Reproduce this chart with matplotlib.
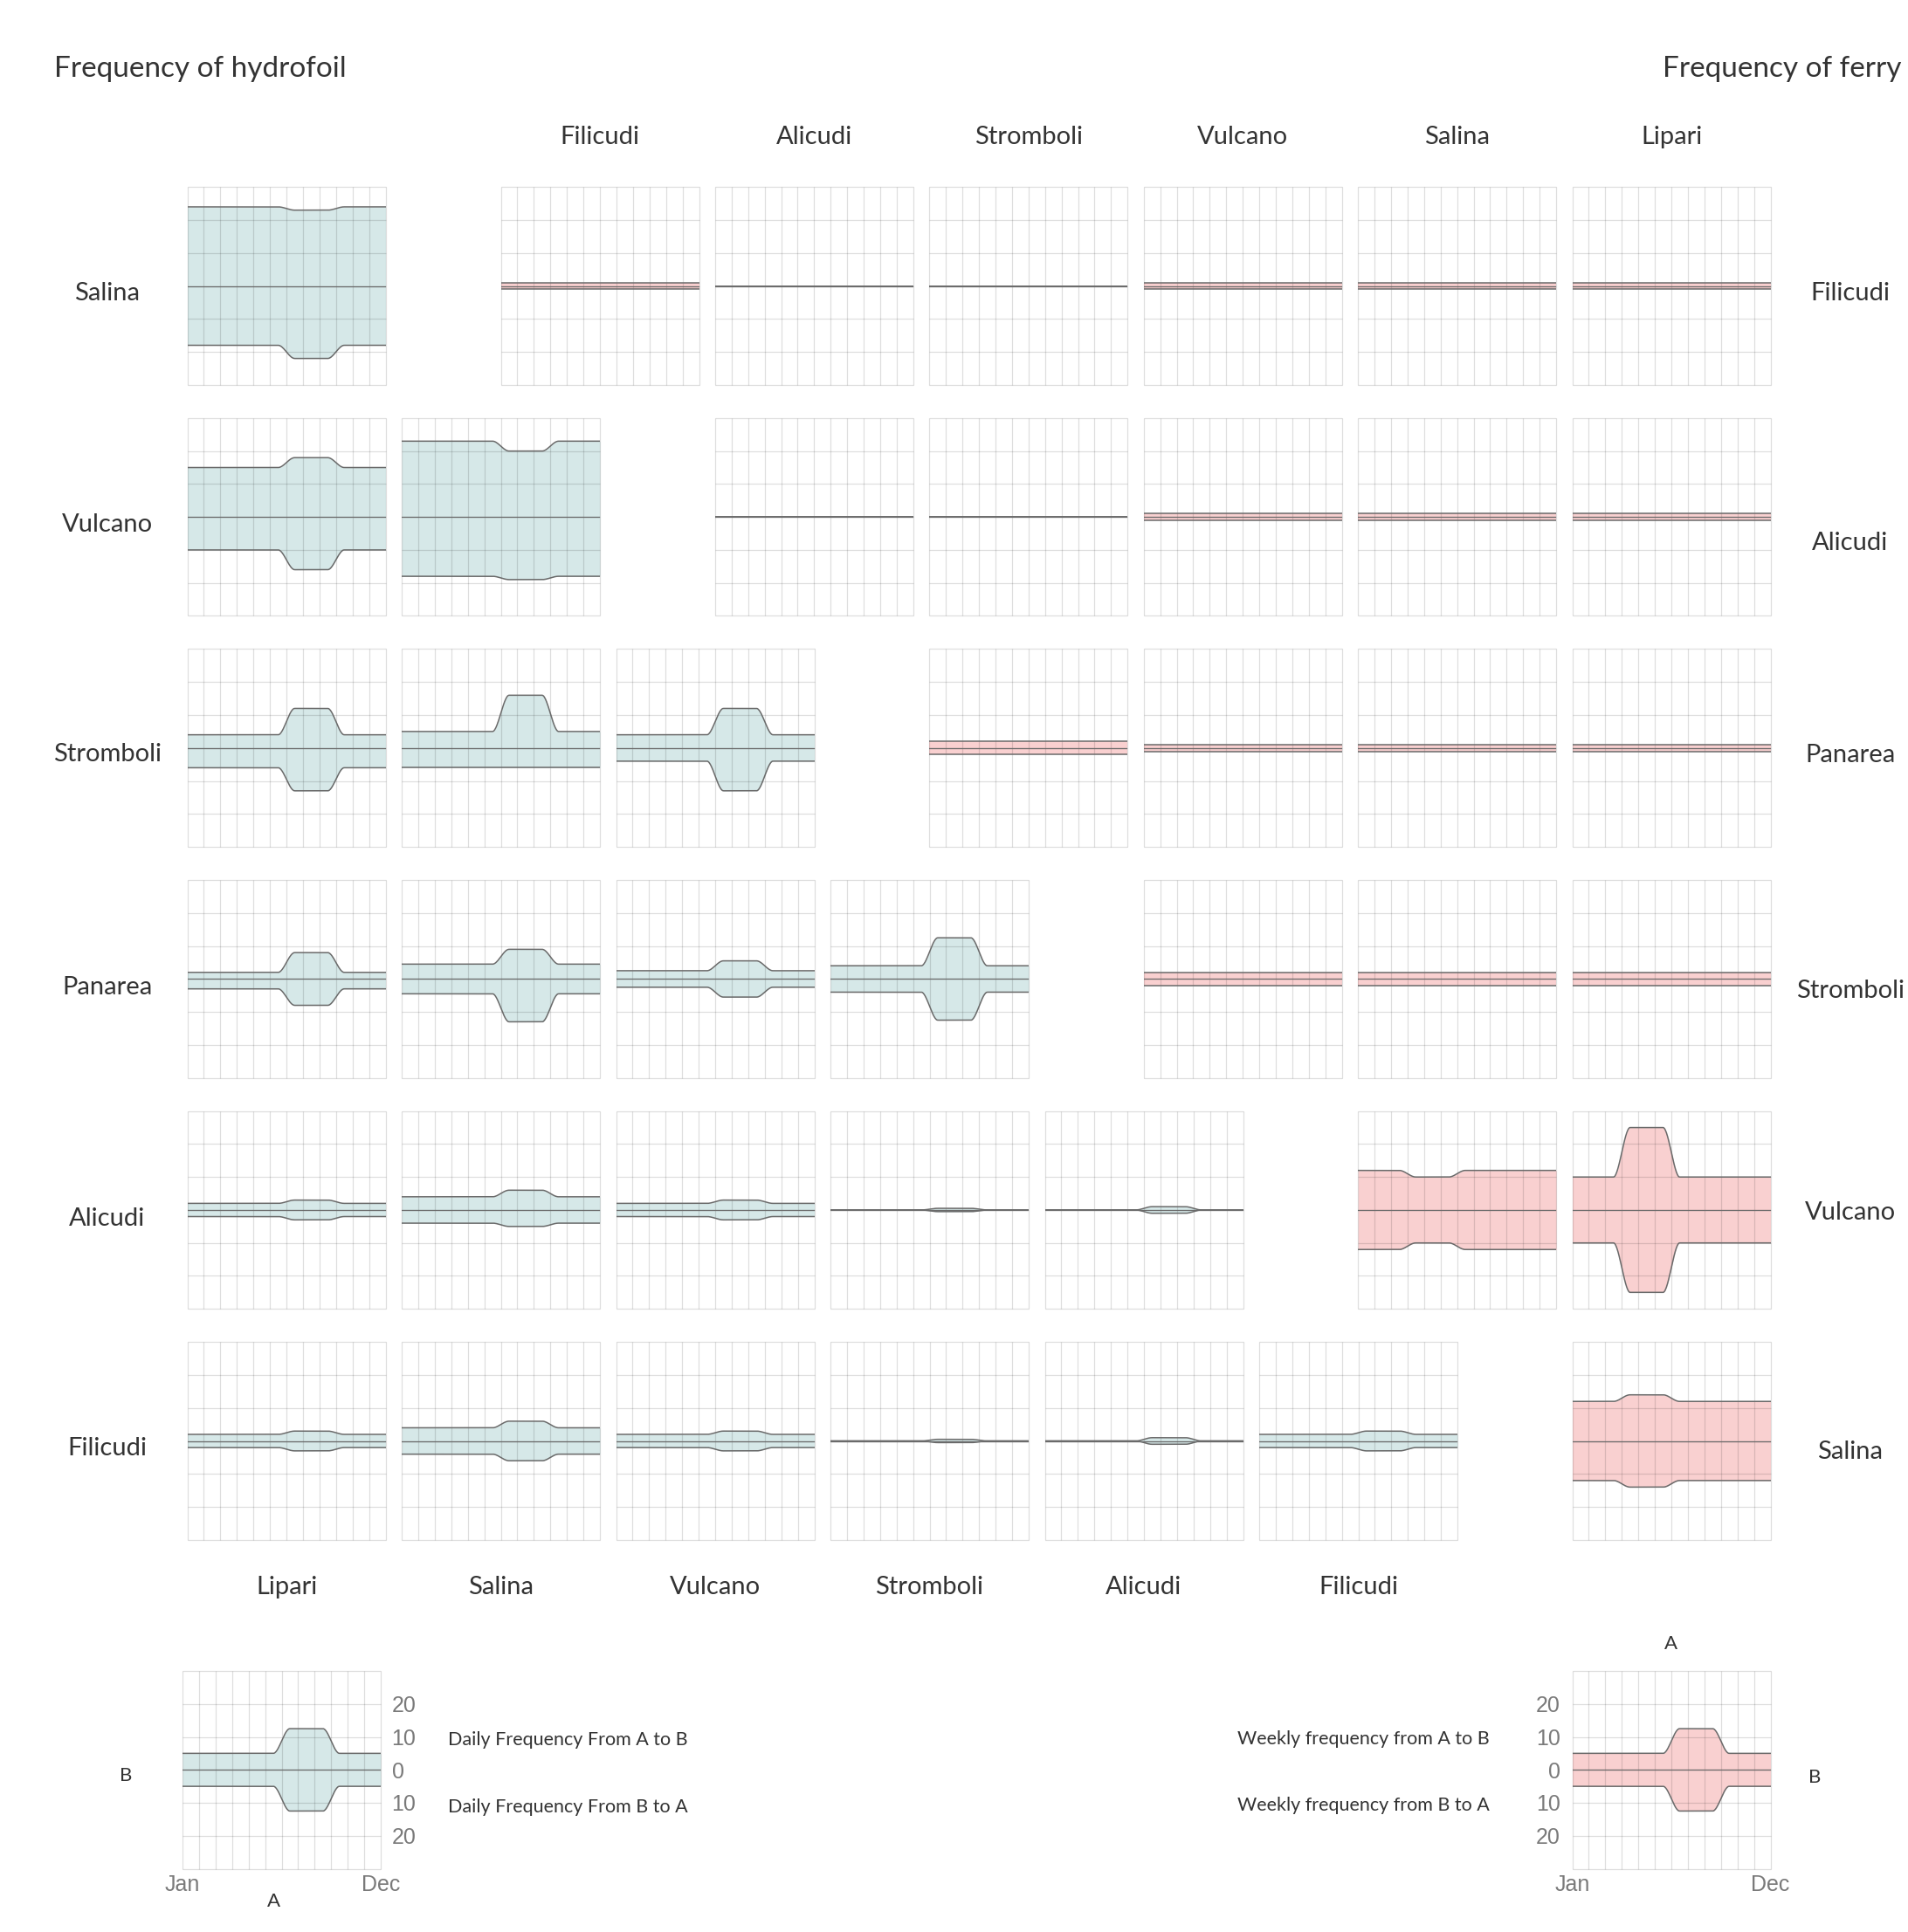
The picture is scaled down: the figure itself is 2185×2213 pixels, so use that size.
import numpy as np
import matplotlib as mpl
mpl.use("Agg")
import matplotlib.pyplot as plt

# islands on the two triangular matrices
hydro_rows = ["Salina", "Vulcano", "Stromboli", "Panarea", "Alicudi", "Filicudi"]
hydro_cols = ["Lipari", "Salina", "Vulcano", "Stromboli", "Alicudi", "Filicudi"]
ferry_rows = ["Filicudi", "Alicudi", "Panarea", "Stromboli", "Vulcano", "Salina"]
ferry_cols = ["Filicudi", "Alicudi", "Stromboli", "Vulcano", "Salina", "Lipari"]
months = ["Jan", "Feb", "Mar", "Apr", "May", "Jun",
          "Jul", "Aug", "Sep", "Oct", "Nov", "Dec"]

# daily hydrofoil runs per month, key = (row, col)
hydro_a_to_b = {
    (0, 0): [24, 24, 24, 24, 24, 24, 23, 23, 23, 24, 24, 24],
    (1, 0): [15, 15, 15, 15, 15, 15, 18, 18, 18, 15, 15, 15],
    (1, 1): [23, 23, 23, 23, 23, 23, 20, 20, 20, 23, 23, 23],
    (2, 0): [4, 4, 4, 4, 4, 4, 12, 12, 12, 4, 4, 4],
    (2, 1): [5, 5, 5, 5, 5, 5, 16, 16, 16, 5, 5, 5],
    (2, 2): [4, 4, 4, 4, 4, 4, 12, 12, 12, 4, 4, 4],
    (3, 0): [2, 2, 2, 2, 2, 2, 8, 8, 8, 2, 2, 2],
    (3, 1): [4.5, 4.5, 4.5, 4.5, 4.5, 4.5, 9, 9, 9, 4.5, 4.5, 4.5],
    (3, 2): [2.5, 2.5, 2.5, 2.5, 2.5, 2.5, 5.5, 5.5, 5.5, 2.5, 2.5, 2.5],
    (3, 3): [4, 4, 4, 4, 4, 4, 12.5, 12.5, 12.5, 4, 4, 4],
    (4, 0): [2, 2, 2, 2, 2, 2, 3, 3, 3, 2, 2, 2],
    (4, 1): [4, 4, 4, 4, 4, 4, 6, 6, 6, 4, 4, 4],
    (4, 2): [2, 2, 2, 2, 2, 2, 3, 3, 3, 2, 2, 2],
    (4, 3): [0, 0, 0, 0, 0, 0, 0.5, 0.5, 0.5, 0, 0, 0],
    (4, 4): [0, 0, 0, 0, 0, 0, 1, 1, 1, 0, 0, 0],
    (5, 0): [2, 2, 2, 2, 2, 2, 3, 3, 3, 2, 2, 2],
    (5, 1): [4, 4, 4, 4, 4, 4, 6, 6, 6, 4, 4, 4],
    (5, 2): [2, 2, 2, 2, 2, 2, 3, 3, 3, 2, 2, 2],
    (5, 3): [0, 0, 0, 0, 0, 0, 0.5, 0.5, 0.5, 0, 0, 0],
    (5, 4): [0, 0, 0, 0, 0, 0, 1, 1, 1, 0, 0, 0],
    (5, 5): [2, 2, 2, 2, 2, 2, 3, 3, 3, 2, 2, 2],
}
hydro_b_to_a = {
    (0, 0): [18, 18, 18, 18, 18, 18, 22, 22, 22, 18, 18, 18],
    (1, 0): [10, 10, 10, 10, 10, 10, 16, 16, 16, 10, 10, 10],
    (1, 1): [18, 18, 18, 18, 18, 18, 19, 19, 19, 18, 18, 18],
    (2, 0): [6, 6, 6, 6, 6, 6, 13, 13, 13, 6, 6, 6],
    (2, 1): [6, 6, 6, 6, 6, 6, 6, 6, 6, 6, 6, 6],
    (2, 2): [4, 4, 4, 4, 4, 4, 13, 13, 13, 4, 4, 4],
    (3, 0): [3, 3, 3, 3, 3, 3, 8, 8, 8, 3, 3, 3],
    (3, 1): [4.5, 4.5, 4.5, 4.5, 4.5, 4.5, 13, 13, 13, 4.5, 4.5, 4.5],
    (3, 2): [2.5, 2.5, 2.5, 2.5, 2.5, 2.5, 5.5, 5.5, 5.5, 2.5, 2.5, 2.5],
    (3, 3): [4, 4, 4, 4, 4, 4, 12.5, 12.5, 12.5, 4, 4, 4],
    (4, 0): [2, 2, 2, 2, 2, 2, 3, 3, 3, 2, 2, 2],
    (4, 1): [4, 4, 4, 4, 4, 4, 5, 5, 5, 4, 4, 4],
    (4, 2): [2, 2, 2, 2, 2, 2, 3, 3, 3, 2, 2, 2],
    (4, 3): [0, 0, 0, 0, 0, 0, 0.5, 0.5, 0.5, 0, 0, 0],
    (4, 4): [0, 0, 0, 0, 0, 0, 1, 1, 1, 0, 0, 0],
    (5, 0): [2, 2, 2, 2, 2, 2, 3, 3, 3, 2, 2, 2],
    (5, 1): [4, 4, 4, 4, 4, 4, 6, 6, 6, 4, 4, 4],
    (5, 2): [2, 2, 2, 2, 2, 2, 3, 3, 3, 2, 2, 2],
    (5, 3): [0, 0, 0, 0, 0, 0, 0.5, 0.5, 0.5, 0, 0, 0],
    (5, 4): [0, 0, 0, 0, 0, 0, 1, 1, 1, 0, 0, 0],
    (5, 5): [2, 2, 2, 2, 2, 2, 3, 3, 3, 2, 2, 2],
}

# weekly ferry runs per month, key = (row, col)
ferry_a_to_b = {
    (0, 0): [1, 1, 1, 1, 1, 1, 1, 1, 1, 1, 1, 1],
    (0, 1): [0, 0, 0, 0, 0, 0, 0, 0, 0, 0, 0, 0],
    (0, 2): [0, 0, 0, 0, 0, 0, 0, 0, 0, 0, 0, 0],
    (0, 3): [1, 1, 1, 1, 1, 1, 1, 1, 1, 1, 1, 1],
    (0, 4): [1, 1, 1, 1, 1, 1, 1, 1, 1, 1, 1, 1],
    (0, 5): [1, 1, 1, 1, 1, 1, 1, 1, 1, 1, 1, 1],
    (1, 1): [0, 0, 0, 0, 0, 0, 0, 0, 0, 0, 0, 0],
    (1, 2): [0, 0, 0, 0, 0, 0, 0, 0, 0, 0, 0, 0],
    (1, 3): [1, 1, 1, 1, 1, 1, 1, 1, 1, 1, 1, 1],
    (1, 4): [1, 1, 1, 1, 1, 1, 1, 1, 1, 1, 1, 1],
    (1, 5): [1, 1, 1, 1, 1, 1, 1, 1, 1, 1, 1, 1],
    (2, 2): [2, 2, 2, 2, 2, 2, 2, 2, 2, 2, 2, 2],
    (2, 3): [1, 1, 1, 1, 1, 1, 1, 1, 1, 1, 1, 1],
    (2, 4): [1, 1, 1, 1, 1, 1, 1, 1, 1, 1, 1, 1],
    (2, 5): [1, 1, 1, 1, 1, 1, 1, 1, 1, 1, 1, 1],
    (3, 3): [2, 2, 2, 2, 2, 2, 2, 2, 2, 2, 2, 2],
    (3, 4): [2, 2, 2, 2, 2, 2, 2, 2, 2, 2, 2, 2],
    (3, 5): [2, 2, 2, 2, 2, 2, 2, 2, 2, 2, 2, 2],
    (4, 4): [12, 12, 12, 10, 10, 10, 12, 12, 12, 12, 12, 12],
    (4, 5): [10, 10, 10, 25, 25, 25, 10, 10, 10, 10, 10, 10],
    (5, 5): [12, 12, 12, 14, 14, 14, 12, 12, 12, 12, 12, 12],
}
ferry_b_to_a = dict(ferry_a_to_b)

# the two key panels
legend_daily_ab = [5, 5, 5, 5, 5, 5, 12.5, 12.5, 12.5, 5, 5, 5]
legend_daily_ba = [5, 5, 5, 5, 5, 5, 12.5, 12.5, 12.5, 5, 5, 5]
legend_weekly_ab = [5, 5, 5, 5, 5, 5, 12.5, 12.5, 12.5, 5, 5, 5]
legend_weekly_ba = [5, 5, 5, 5, 5, 5, 12.5, 12.5, 12.5, 5, 5, 5]

W, H = 2185, 2213
HYDRO_FILL = "#d6e8e8"
FERRY_FILL = "#f9d0d0"
LINE_COL = "#6a6a6a"
GRID_COL = (0, 0, 0, 0.13)
TEXT_COL = "#333333"
TICK_COL = "#7a7a7a"
LABEL_FONT = ["Lato", "Roboto", "DejaVu Sans"]
TICK_FONT = ["Liberation Sans", "DejaVu Sans"]


def monotone_curve(xp, yp, n=30):
    """Monotone cubic (Fritsch-Carlson) rendering of the monthly points."""
    xp = np.asarray(xp, float)
    yp = np.asarray(yp, float)
    h = np.diff(xp)
    d = np.diff(yp) / h
    m = np.zeros_like(yp)
    m[0], m[-1] = d[0], d[-1]
    for i in range(1, len(xp) - 1):
        if d[i - 1] * d[i] > 0:
            w1 = 2 * h[i] + h[i - 1]
            w2 = h[i] + 2 * h[i - 1]
            m[i] = (w1 + w2) / (w1 / d[i - 1] + w2 / d[i])
    xs, ys = [], []
    for i in range(len(xp) - 1):
        t = np.linspace(0, 1, n, endpoint=(i == len(xp) - 2))
        h00 = 2 * t**3 - 3 * t**2 + 1
        h10 = t**3 - 2 * t**2 + t
        h01 = -2 * t**3 + 3 * t**2
        h11 = t**3 - t**2
        xs.append(xp[i] + t * h[i])
        ys.append(h00 * yp[i] + h10 * h[i] * m[i] + h01 * yp[i + 1] + h11 * h[i] * m[i + 1])
    return np.concatenate(xs), np.concatenate(ys)


def add_panel(fig, left, top, width=227, height=226.5):
    ax = fig.add_axes([left / W, 1 - (top + height) / H, width / W, height / H])
    ax.set_xlim(0, 12)
    ax.set_ylim(-30, 30)
    for sp in ax.spines.values():
        sp.set_visible(False)
    ax.set_xticks([])
    ax.set_yticks([])
    ax.vlines(np.arange(13), -30, 30, color=GRID_COL, lw=0.9, zorder=2, clip_on=False)
    ax.hlines(np.arange(-30, 31, 10), 0, 12, color=GRID_COL, lw=0.9, zorder=2, clip_on=False)
    return ax


def draw_band(ax, a_to_b, b_to_a, fill):
    # monthly values sit at the middle of each month, held flat to the edges
    xp = np.concatenate([[0], np.arange(len(months)) + 0.5, [12]])
    up = np.concatenate([[a_to_b[0]], a_to_b, [a_to_b[-1]]])
    dn = np.concatenate([[b_to_a[0]], b_to_a, [b_to_a[-1]]])
    x, y_up = monotone_curve(xp, up)
    _, y_dn = monotone_curve(xp, dn)
    ax.fill_between(x, -y_dn, y_up, color=fill, lw=0, zorder=1)
    ax.plot(x, y_up, color=LINE_COL, lw=1.1, zorder=3)
    ax.plot(x, -y_dn, color=LINE_COL, lw=1.1, zorder=3)
    ax.axhline(0, color=LINE_COL, lw=0.9, zorder=3)


def ftext(fig, x, y, s, size, **kw):
    kw.setdefault("color", TEXT_COL)
    kw.setdefault("family", LABEL_FONT)
    kw.setdefault("weight", "normal")
    fig.text(x / W, 1 - y / H, s, fontsize=size, **kw)


def key_axis(ax, side, pad_y):
    tick_vals = [20, 10, 0, -10, -20]
    if side == "right":
        ax.yaxis.tick_right()
    ax.set_yticks(tick_vals)
    ax.set_yticklabels([str(abs(v)) for v in tick_vals],
                       family=TICK_FONT, fontsize=18, color=TICK_COL)
    ax.set_xticks([0, 12])
    ax.set_xticklabels([months[0], months[-1]],
                       family=TICK_FONT, fontsize=18, color=TICK_COL)
    ax.tick_params(length=0, pad=5)
    ax.tick_params(axis="y", pad=pad_y)


def main():

    fig = plt.figure(figsize=(W / 100, H / 100), dpi=100)
    fig.patch.set_facecolor("white")

    hydro_left = [214.5 + 245.5 * c for c in range(6)]
    ferry_left = [573.5 + 245.4 * c for c in range(6)]
    row_top = [214.3 + 264.6 * r for r in range(6)]

    for (r, c), ab in hydro_a_to_b.items():
        ax = add_panel(fig, hydro_left[c], row_top[r])
        draw_band(ax, ab, hydro_b_to_a[(r, c)], HYDRO_FILL)

    for (r, c), ab in ferry_a_to_b.items():
        ax = add_panel(fig, ferry_left[c], row_top[r])
        draw_band(ax, ab, ferry_b_to_a[(r, c)], FERRY_FILL)

    # titles
    ftext(fig, 62, 88, "Frequency of hydrofoil", 24, ha="left", va="baseline")
    ftext(fig, 2177, 88, "Frequency of ferry", 24, ha="right", va="baseline")

    # matrix labels
    left_y = [336, 601, 864, 1131, 1396, 1659]
    right_y = [336, 622, 865, 1135, 1389, 1663]
    for name, y in zip(hydro_rows, left_y):
        ftext(fig, 123, y, name, 21, ha="center", va="center")
    for name, y in zip(ferry_rows, right_y):
        ftext(fig, 2119, y, name, 21, ha="center", va="center")
    for name, x in zip(ferry_cols, ferry_left):
        ftext(fig, x + 113.5, 165, name, 21, ha="center", va="baseline")
    for name, x in zip(hydro_cols, hydro_left):
        ftext(fig, x + 113.5, 1818, name, 21, ha="center", va="center")

    # key for the hydrofoil panels
    axl = add_panel(fig, 209, 1914)
    draw_band(axl, legend_daily_ab, legend_daily_ba, HYDRO_FILL)
    key_axis(axl, "right", 9)
    ftext(fig, 513, 1993, "Daily Frequency From A to B", 15.5, ha="left", va="center")
    ftext(fig, 513, 2070, "Daily Frequency From B to A", 15.5, ha="left", va="center")
    ftext(fig, 144, 2034, "B", 16, ha="center", va="center")
    ftext(fig, 314, 2178, "A", 16, ha="center", va="center")

    # key for the ferry panels
    axr = add_panel(fig, ferry_left[5], 1914)
    draw_band(axr, legend_weekly_ab, legend_weekly_ba, FERRY_FILL)
    key_axis(axr, "left", 10)
    ftext(fig, 1706, 1992, "Weekly frequency from A to B", 15.5, ha="right", va="center")
    ftext(fig, 1706, 2068, "Weekly frequency from B to A", 15.5, ha="right", va="center")
    ftext(fig, 1913, 1883, "A", 16, ha="center", va="center")
    ftext(fig, 2078, 2036, "B", 16, ha="center", va="center")

    fig.savefig("out.png", dpi=100, facecolor="white")
    plt.close(fig)


if __name__ == "__main__":
    main()
